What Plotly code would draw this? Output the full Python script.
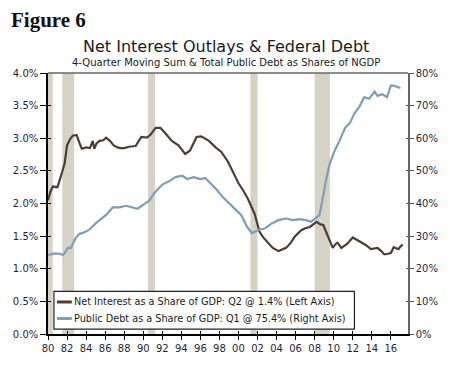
import plotly.graph_objects as go

# Net interest outlays, % of GDP (left axis)
interest_years = [1980.0, 1980.25, 1980.5, 1981.0, 1981.5, 1981.75, 1982.0, 1982.3, 1982.6, 1983.0,
                  1983.3, 1983.55, 1984.0, 1984.4, 1984.7, 1984.85, 1985.1, 1985.4, 1985.8, 1986.1,
                  1986.5, 1986.9, 1987.3, 1987.6, 1988.0, 1988.5, 1989.2, 1989.8, 1990.4, 1990.8,
                  1991.3, 1991.8, 1992.3, 1993.0, 1993.7, 1994.4, 1994.9, 1995.3, 1995.6, 1996.1,
                  1996.5, 1996.9, 1997.6, 1998.2, 1998.9, 1999.5, 2000.0, 2000.5, 2001.0, 2001.7,
                  2002.2, 2002.6, 2003.1, 2003.6, 2004.2, 2005.0, 2005.5, 2005.9, 2006.3, 2006.6,
                  2007.0, 2007.5, 2008.2, 2008.6, 2008.9, 2009.4, 2009.9, 2010.2, 2010.4, 2010.8,
                  2011.4, 2012.0, 2012.5, 2012.9, 2013.4, 2013.9, 2014.3, 2014.6, 2015.0, 2015.3,
                  2015.7, 2016.0, 2016.3, 2016.8, 2017.0, 2017.25]
interest_values = [2.05, 2.18, 2.26, 2.25, 2.49, 2.62, 2.89, 2.98, 3.04, 3.05,
                   2.93, 2.84, 2.86, 2.85, 2.96, 2.84, 2.92, 2.96, 2.97, 3.01,
                   2.96, 2.89, 2.86, 2.85, 2.85, 2.87, 2.88, 3.02, 3.01, 3.06,
                   3.16, 3.16, 3.08, 2.96, 2.89, 2.76, 2.81, 2.94, 3.02, 3.03,
                   3.00, 2.96, 2.86, 2.79, 2.64, 2.46, 2.31, 2.20, 2.07, 1.84,
                   1.57, 1.48, 1.40, 1.32, 1.27, 1.32, 1.40, 1.49, 1.55, 1.59,
                   1.62, 1.64, 1.72, 1.68, 1.67, 1.49, 1.32, 1.38, 1.40, 1.32,
                   1.38, 1.48, 1.44, 1.40, 1.36, 1.30, 1.31, 1.32, 1.27, 1.22,
                   1.23, 1.24, 1.33, 1.30, 1.34, 1.37]

# Total public debt, % of GDP (right axis)
debt_years = [1980.0, 1980.7, 1981.2, 1981.6, 1982.1, 1982.4, 1982.9, 1983.3, 1983.6, 1984.3,
              1985.0, 1985.7, 1986.1, 1986.8, 1987.5, 1988.2, 1988.9, 1989.4, 1990.1, 1990.6,
              1991.2, 1992.0, 1992.7, 1993.4, 1994.1, 1994.6, 1995.3, 1996.0, 1996.5, 1997.0,
              1997.7, 1998.4, 1998.9, 1999.6, 2000.3, 2000.9, 2001.4, 2002.1, 2002.8, 2003.5,
              2004.2, 2005.0, 2005.7, 2006.4, 2007.1, 2007.6, 2008.2, 2008.5, 2008.9, 2009.2,
              2009.6, 2010.1, 2010.6, 2011.2, 2011.7, 2012.2, 2012.7, 2013.2, 2013.7, 2014.3,
              2014.6, 2015.1, 2015.6, 2016.0, 2016.3, 2016.7, 2017.0]
debt_values = [24.2, 24.7, 24.6, 24.2, 26.4, 26.4, 29.4, 30.7, 30.9, 31.9,
               33.9, 35.4, 36.5, 38.8, 38.8, 39.3, 38.8, 38.4, 39.8, 40.8,
               43.3, 45.8, 46.8, 48.1, 48.5, 47.5, 48.1, 47.5, 47.8, 46.3,
               44.3, 41.8, 40.3, 38.4, 36.4, 32.9, 30.9, 31.9, 32.4, 33.9,
               34.9, 35.4, 34.9, 35.2, 34.9, 34.4, 35.9, 36.4, 42.3, 47.3,
               52.3, 56.2, 59.2, 63.2, 64.7, 67.7, 69.7, 72.6, 72.1, 74.3,
               73.0, 73.5, 72.6, 76.1, 76.1, 75.6, 75.4]

series_names = ["Net Interest as a Share of GDP: Q2 @ 1.4% (Left Axis)",
                "Public Debt as a Share of GDP: Q1 @ 75.4% (Right Axis)"]

# Recession periods (decimal years)
recession_starts = [1980.0, 1981.5, 1990.5, 2001.25, 2008.0]
recession_ends = [1980.5, 1982.75, 1991.25, 2002.0, 2009.6]

# Axis ticks
x_tick_years = list(range(1980, 2017, 2))
x_tick_labels = ["%02d" % (y % 100) for y in x_tick_years]
left_ticks = [0, 0.5, 1.0, 1.5, 2.0, 2.5, 3.0, 3.5, 4.0]
left_tick_labels = ["%.1f%%" % v for v in left_ticks]
right_ticks = [0, 10, 20, 30, 40, 50, 60, 70, 80]
right_tick_labels = ["%d%%" % v for v in right_ticks]

FONT = "DejaVu Sans"
TICK_COLOR = "#1f1f3a"
INTEREST_COLOR = "#4b3f35"
DEBT_COLOR = "#7f9db4"

W, H = 450, 366
L, R, T, B = 48, 39, 73, 24
PW, PH = W - L - R, H - T - B


def px(x):
    return (x - L) / PW


def py(y):
    return (H - B - y) / PH


fig = go.Figure()

fig.add_trace(go.Scatter(
    x=interest_years, y=interest_values, mode="lines", name=series_names[0],
    line=dict(color=INTEREST_COLOR, width=2.2), yaxis="y", showlegend=False))
fig.add_trace(go.Scatter(
    x=debt_years, y=debt_values, mode="lines", name=series_names[1],
    line=dict(color=DEBT_COLOR, width=2.2), yaxis="y2", showlegend=False))
# empty traces to carry inside tick marks
fig.add_trace(go.Scatter(x=[None], y=[None], xaxis="x2", yaxis="y3", showlegend=False,
                         hoverinfo="skip"))
fig.add_trace(go.Scatter(x=[None], y=[None], xaxis="x2", yaxis="y4", showlegend=False,
                         hoverinfo="skip"))

for s, e in zip(recession_starts, recession_ends):
    fig.add_shape(type="rect", xref="x", yref="paper", x0=s, x1=e, y0=0, y1=1,
                  fillcolor="#d6d2c5", line=dict(width=0), layer="below")

xr = [1980, 2017.8]
fig.update_layout(
    width=W, height=H,
    margin=dict(l=L, r=R, t=T, b=B),
    paper_bgcolor="white", plot_bgcolor="white",
    font=dict(family=FONT, size=10, color=TICK_COLOR),
    showlegend=False,
    xaxis=dict(range=xr, tickmode="array", tickvals=x_tick_years,
               ticktext=x_tick_labels, ticks="outside", ticklen=4, tickcolor="black",
               showline=True, linecolor="black", linewidth=1.5, showgrid=False,
               zeroline=False, tickfont=dict(size=10, color=TICK_COLOR)),
    xaxis2=dict(range=xr, overlaying="x", anchor="y", side="bottom", tickmode="array",
                tickvals=x_tick_years, ticks="inside", ticklen=3, tickcolor="black",
                showticklabels=False, showline=False, showgrid=False, zeroline=False),
    yaxis=dict(range=[0, 4.0], tickmode="array", tickvals=left_ticks,
               ticktext=left_tick_labels, ticks="outside", ticklen=6, tickcolor="black",
               showline=True, linecolor="black", linewidth=1.5, showgrid=False,
               zeroline=False, tickfont=dict(size=10, color=TICK_COLOR)),
    yaxis2=dict(range=[0, 80], overlaying="y", side="right", tickmode="array",
                tickvals=right_ticks, ticktext=right_tick_labels, ticks="outside",
                ticklen=4, tickcolor="#555555", showline=True, linecolor="#666666",
                linewidth=1.5, showgrid=False, zeroline=False,
                tickfont=dict(size=10, color=TICK_COLOR)),
    yaxis3=dict(range=[0, 4.0], overlaying="y", side="left", anchor="x", tickmode="array",
                tickvals=left_ticks, ticks="inside", ticklen=3, tickcolor="black",
                showticklabels=False, showline=False, showgrid=False, zeroline=False),
    yaxis4=dict(range=[0, 80], overlaying="y", side="right", anchor="x", tickmode="array",
                tickvals=right_ticks, ticks="inside", ticklen=2, tickcolor="#555555",
                showticklabels=False, showline=False, showgrid=False, zeroline=False),
)

# top frame line
fig.add_shape(type="line", xref="paper", yref="paper", x0=0, x1=1, y0=1, y1=1,
              line=dict(color="#666666", width=1.5))

# titles
fig.add_annotation(text="<b>Figure 6</b>", xref="paper", yref="paper",
                   x=px(9), y=py(18), xanchor="left", yanchor="middle",
                   showarrow=False, font=dict(family="Liberation Serif", size=21, color="#111111"))
fig.add_annotation(text="Net Interest Outlays & Federal Debt", xref="paper", yref="paper",
                   x=px(227), y=py(46), xanchor="center", yanchor="middle",
                   showarrow=False, font=dict(family=FONT, size=16, color="#1a1a1a"))
fig.add_annotation(text="4-Quarter Moving Sum & Total Public Debt as Shares of NGDP",
                   xref="paper", yref="paper", x=px(227), y=py(62), xanchor="center",
                   yanchor="middle", showarrow=False,
                   font=dict(family=FONT, size=10, color="#1a1a1a"))

# legend box
fig.add_shape(type="rect", xref="paper", yref="paper", x0=px(54), x1=px(357),
              y0=py(337), y1=py(298), fillcolor="white", line=dict(color="#222222", width=1.2),
              layer="above")
for name, color, yy in zip(series_names, [INTEREST_COLOR, DEBT_COLOR], [309, 326]):
    fig.add_shape(type="line", xref="paper", yref="paper", x0=px(57), x1=px(72),
                  y0=py(yy), y1=py(yy), line=dict(color=color, width=3), layer="above")
    fig.add_annotation(text=name, xref="paper", yref="paper", x=px(72), y=py(yy),
                       xanchor="left", yanchor="middle", showarrow=False,
                       font=dict(family=FONT, size=9.7, color="#1a1a1a"))

fig.write_html("out.html", config={"displayModeBar": False},
               post_script="document.body.style.margin='0';")
